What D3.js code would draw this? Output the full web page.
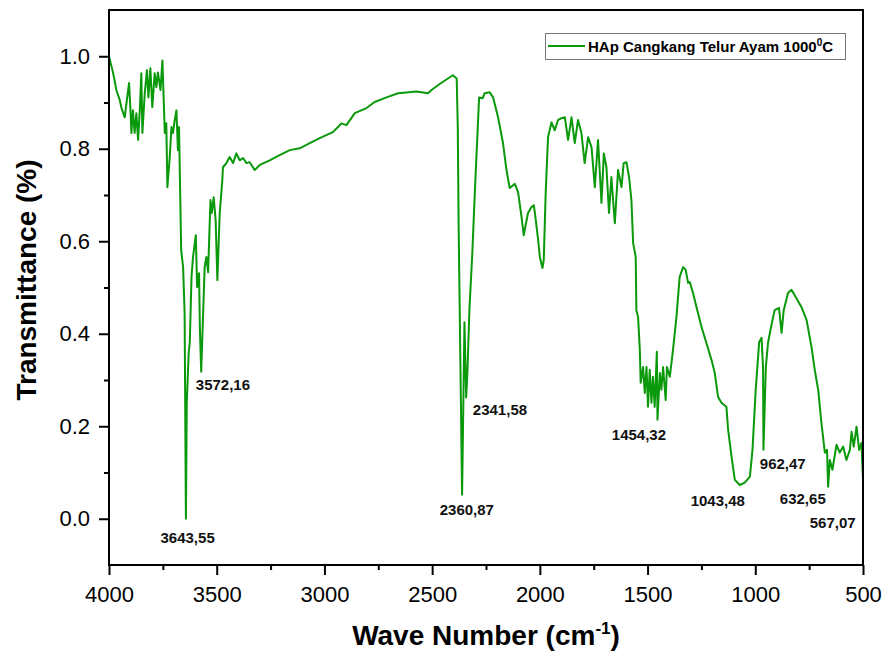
<!DOCTYPE html>
<html>
<head>
<meta charset="utf-8">
<script src="https://cdn.jsdelivr.net/npm/d3@7"></script>
<style>
  body { margin: 0; background: #fff; }
  text { font-family: "Liberation Sans", Arial, sans-serif; }
</style>
</head>
<body>
<div id="chart"></div>
<script>
// Spectrum
var waveNumber = [4000,3984,3974,3966,3950,3942,3927,3919,3907,3901,3896,3889,3881,3873,3865,3857,3850,3845,3834,3824,
  3817,3808,3799,3788,3780,3773,3761,3752,3746,3741,3734,3729,3718,3710,3703,3695,3687,3680,3675,3669,
  3665,3656,3649,3647,3643,3639,3630,3625,3617,3610,3597,3591,3582,3578,3572,3556,3548,3540,3529,3523,
  3514,3505,3497,3486,3474,3471,3455,3440,3424,3409,3393,3378,3362,3347,3324,3300,3254,3208,3161,3115,
  3068,3022,2961,2937,2921,2898,2859,2805,2767,2712,2658,2573,2519,2503,2465,2404,2386,2381,2377,2372,
  2361,2350,2342,2336,2327,2313,2302,2282,2266,2256,2233,2217,2194,2171,2155,2140,2116,2101,2085,2075,
  2055,2039,2028,2019,2008,2000,1988,1982,1973,1962,1946,1931,1916,1900,1884,1869,1853,1838,1823,1807,
  1792,1776,1760,1745,1730,1714,1703,1691,1679,1668,1652,1637,1621,1611,1598,1586,1575,1567,1555,1552,
  1544,1536,1532,1521,1513,1505,1498,1490,1482,1475,1467,1457,1454,1443,1436,1428,1416,1410,1397,1389,
  1382,1366,1351,1335,1323,1312,1304,1289,1273,1250,1227,1203,1188,1173,1157,1134,1126,1110,1095,1072,
  1049,1025,1013,998,982,971,964,962,951,941,925,910,890,878,868,848,832,809,786,762,
  739,724,708,693,677,667,662,654,642,623,608,592,577,561,553,543,530,518,507,500];

var transmittance = [1.000,0.970,0.948,0.927,0.905,0.888,0.868,0.898,0.942,0.890,0.834,0.883,0.834,0.877,0.819,0.883,0.963,0.834,0.920,0.970,
  0.911,0.974,0.890,0.963,0.933,0.965,0.927,0.991,0.905,0.834,0.855,0.717,0.782,0.847,0.834,0.862,0.883,0.797,0.847,0.689,
  0.581,0.544,0.445,0.300,0.000,0.250,0.360,0.380,0.523,0.566,0.613,0.501,0.531,0.410,0.318,0.544,0.566,0.533,0.689,0.661,
  0.695,0.646,0.516,0.661,0.732,0.760,0.769,0.782,0.769,0.790,0.775,0.780,0.769,0.771,0.754,0.765,0.775,0.786,0.797,0.801,
  0.812,0.823,0.836,0.847,0.855,0.851,0.877,0.888,0.901,0.911,0.920,0.924,0.920,0.927,0.940,0.959,0.952,0.847,0.631,0.451,
  0.052,0.425,0.262,0.320,0.452,0.580,0.704,0.911,0.909,0.920,0.922,0.911,0.868,0.812,0.754,0.715,0.724,0.706,0.652,0.613,
  0.661,0.674,0.678,0.646,0.603,0.566,0.542,0.559,0.704,0.825,0.857,0.840,0.862,0.866,0.868,0.819,0.868,0.812,0.862,0.834,
  0.769,0.825,0.803,0.717,0.819,0.683,0.790,0.760,0.661,0.739,0.639,0.754,0.717,0.769,0.771,0.739,0.689,0.596,0.566,0.451,
  0.436,0.365,0.294,0.328,0.272,0.328,0.242,0.322,0.251,0.307,0.242,0.361,0.214,0.315,0.279,0.328,0.257,0.328,0.307,0.337,
  0.365,0.436,0.523,0.544,0.538,0.510,0.512,0.488,0.458,0.415,0.380,0.343,0.315,0.264,0.251,0.242,0.192,0.134,0.084,0.073,
  0.078,0.091,0.149,0.279,0.382,0.391,0.328,0.149,0.328,0.380,0.419,0.451,0.456,0.402,0.451,0.488,0.495,0.477,0.458,0.430,
  0.371,0.322,0.279,0.207,0.143,0.149,0.069,0.127,0.106,0.160,0.143,0.156,0.127,0.149,0.188,0.156,0.199,0.149,0.164,0.084];

// Peak labels (text, wave number, transmittance where the label sits)
var peakText = ["3643,55", "3572,16", "2360,87", "2341,58", "1454,32", "1043,48", "962,47", "632,65", "567,07"];
var peakWave = [3635, 3597, 2339, 2311, 1666, 1300, 979, 886, 747];
var peakT    = [-0.052, 0.279, 0.009, 0.225, 0.171, 0.028, 0.108, 0.032, -0.019];
var peakAnchor = ["middle", "start", "middle", "start", "start", "start", "start", "start", "start"];

var xTicks = [4000, 3500, 3000, 2500, 2000, 1500, 1000, 500];
var xMinorTicks = [3750, 3250, 2750, 2250, 1750, 1250, 750];
var yTicks = [0.0, 0.2, 0.4, 0.6, 0.8, 1.0];
var yMinorTicks = [0.1, 0.3, 0.5, 0.7, 0.9];

var seriesName = "HAp Cangkang Telur Ayam 1000";
var lineColor = "#0a990a";

//Define SVG area
var svgWidth = 889;
var svgHeight = 658;

var chartMargin = { top: 10, right: 26, bottom: 93, left: 109 };
var chartWidth = svgWidth - chartMargin.left - chartMargin.right;
var chartHeight = svgHeight - chartMargin.top - chartMargin.bottom;

var svg = d3.select("#chart")
    .append("svg")
    .attr("width", svgWidth)
    .attr("height", svgHeight);

var chartGroup = svg.append("g")
    .attr("transform", `translate(${chartMargin.left}, ${chartMargin.top})`);

var xScale = d3.scaleLinear()
    .domain([4000, 500])
    .range([0, chartWidth]);

var yScale = d3.scaleLinear()
    .domain([-0.1, 1.1])
    .range([chartHeight, 0]);

var spectrum = waveNumber.map((w, i) => ({ w: w, t: transmittance[i] }));

//Axes: major ticks with labels, minor ticks without
var bottomAxis = d3.axisBottom(xScale).tickValues(xTicks).tickSize(10).tickPadding(11).tickFormat(d3.format("d"));
var bottomMinor = d3.axisBottom(xScale).tickValues(xMinorTicks).tickSize(5).tickFormat("");
var leftAxis = d3.axisLeft(yScale).tickValues(yTicks).tickSize(10).tickPadding(9).tickFormat(d3.format(".1f"));
var leftMinor = d3.axisLeft(yScale).tickValues(yMinorTicks).tickSize(5).tickFormat("");

function styleAxis(g) {
    g.selectAll(".domain").remove();
    g.selectAll("line").attr("stroke", "#000").attr("stroke-width", 2);
    g.selectAll("text").attr("font-size", "22px").attr("fill", "#000");
}

chartGroup.append("g")
    .attr("transform", `translate(0, ${chartHeight})`)
    .call(bottomAxis).call(styleAxis);
chartGroup.append("g")
    .attr("transform", `translate(0, ${chartHeight})`)
    .call(bottomMinor).call(styleAxis);
chartGroup.append("g").call(leftAxis).call(styleAxis);
chartGroup.append("g").call(leftMinor).call(styleAxis);

//Spectrum line
var line = d3.line()
    .x(d => xScale(d.w))
    .y(d => yScale(d.t));

chartGroup.append("path")
    .datum(spectrum)
    .attr("d", line)
    .attr("fill", "none")
    .attr("stroke", lineColor)
    .attr("stroke-width", 2)
    .attr("stroke-linejoin", "round");

//Frame
chartGroup.append("rect")
    .attr("x", 0)
    .attr("y", 0)
    .attr("width", chartWidth)
    .attr("height", chartHeight)
    .attr("fill", "none")
    .attr("stroke", "#000")
    .attr("stroke-width", 2);

//Peak labels
chartGroup.selectAll(null)
    .data(peakText)
    .enter()
    .append("text")
    .attr("x", (d, i) => xScale(peakWave[i]))
    .attr("y", (d, i) => yScale(peakT[i]))
    .attr("text-anchor", (d, i) => peakAnchor[i])
    .attr("font-size", "15px")
    .attr("font-weight", "bold")
    .attr("fill", "#111")
    .text(d => d);

//Legend
var legend = chartGroup.append("g")
    .attr("transform", `translate(${chartWidth - 318}, 23)`);

legend.append("rect")
    .attr("x", 0.5)
    .attr("y", 0.5)
    .attr("width", 300)
    .attr("height", 26)
    .attr("fill", "#fff")
    .attr("stroke", "#777")
    .attr("stroke-width", 1);

legend.append("line")
    .attr("x1", 3)
    .attr("x2", 40)
    .attr("y1", 13)
    .attr("y2", 13)
    .attr("stroke", lineColor)
    .attr("stroke-width", 2);

var legendText = legend.append("text")
    .attr("x", 43)
    .attr("y", 18.5)
    .attr("font-size", "15px")
    .attr("font-weight", "bold")
    .attr("fill", "#000");
legendText.append("tspan").text(seriesName);
legendText.append("tspan").attr("dy", -6).attr("font-size", "10px").text("0");
legendText.append("tspan").attr("dy", 6).text("C");

//Axis titles
var xTitle = svg.append("text")
    .attr("x", chartMargin.left + chartWidth / 2)
    .attr("y", 645)
    .attr("text-anchor", "middle")
    .attr("font-size", "28px")
    .attr("font-weight", "bold")
    .attr("fill", "#000");
xTitle.append("tspan").text("Wave Number (cm");
xTitle.append("tspan").attr("dy", -11).attr("font-size", "17px").text("-1");
xTitle.append("tspan").attr("dy", 11).text(")");

svg.append("text")
    .attr("transform", "rotate(-90)")
    .attr("x", -280)
    .attr("y", 36)
    .attr("text-anchor", "middle")
    .attr("font-size", "28px")
    .attr("font-weight", "bold")
    .attr("fill", "#000")
    .text("Transmittance (%)");
</script>
</body>
</html>
